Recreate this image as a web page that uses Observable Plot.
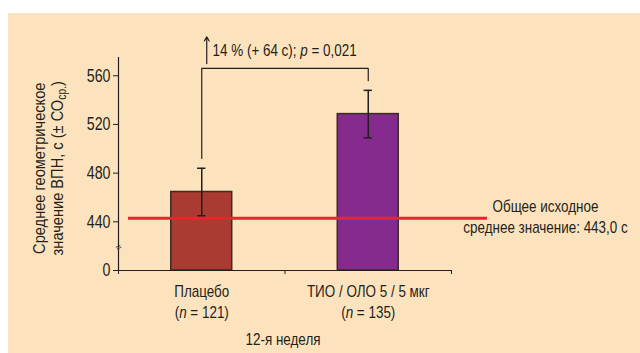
<!DOCTYPE html>
<html><head><meta charset="utf-8">
<script src="https://cdn.jsdelivr.net/npm/d3@7"></script>
<script src="https://cdn.jsdelivr.net/npm/@observablehq/plot@0.6"></script>
<style>
body{margin:0;background:#fff;}
#wrap{position:absolute;left:8px;top:13px;width:632px;height:340px;background:#fde3bd;}
</style></head><body><div id="wrap"></div>
<script>
const categories = ["Плацебо", "ТИО / ОЛО 5 / 5 мкг"];
const nLabels = ["(n = 121)", "(n = 135)"];
const means = [464.5, 528.5];
const errors = [19.5, 19.5];
const colors = ["#a93b30", "#862b8e"];
const baseline = 443.0;
const yTicks = [400, 440, 480, 520, 560];
const yTickLabels = ["0", "440", "480", "520", "560"];
const yLabelLines = ["Среднее геометрическое", "значение ВПН, с (± СОср.)"];
const diffLabel = "14 % (+ 64 с); p = 0,021";
const bracketLeft = 492, bracketTop = 566, bracketRight = 556;
const baselineLabel = ["Общее исходное", "среднее значение: 443,0 с"];
const xTitle = "12-я неделя";

const data = categories.map((c, i) => ({cat: c, n: nLabels[i], pos: i + 0.5, mean: means[i], err: errors[i], color: colors[i]}));
const bracket = [
  {x: data[0].pos, y: bracketLeft},
  {x: data[0].pos, y: bracketTop},
  {x: data[1].pos, y: bracketTop},
  {x: data[1].pos, y: bracketRight}
];
const FONT = '"Liberation Sans",Arial,sans-serif';
const ink = "#231f20";

const svg = Plot.plot({
  width: 632, height: 340,
  marginLeft: 110, marginRight: 189, marginTop: 44, marginBottom: 83,
  style: {fontFamily: FONT, fontSize: "17px", background: "transparent", overflow: "visible", color: ink},
  x: {domain: [0, 2], axis: null},
  y: {domain: [400, 575], axis: null},
  color: {type: "identity"},
  marks: [
    Plot.rectY(data, {x1: d => d.pos - 0.183, x2: d => d.pos + 0.183, y1: 400, y2: "mean", fill: "color", stroke: "#3b2b22", strokeWidth: 1.5}),
    Plot.ruleY([baseline], {stroke: "#e8242e", strokeWidth: 3, insetLeft: 10, insetRight: -36}),
    Plot.ruleX(data, {x: "pos", y1: d => d.mean - d.err, y2: d => d.mean + d.err, stroke: ink, strokeWidth: 1.5}),
    Plot.ruleY(data, {y: d => d.mean + d.err, x1: d => d.pos - 0.025, x2: d => d.pos + 0.025, stroke: ink, strokeWidth: 1.5}),
    Plot.ruleY(data, {y: d => d.mean - d.err, x1: d => d.pos - 0.025, x2: d => d.pos + 0.025, stroke: ink, strokeWidth: 1.5}),
    // axes
    Plot.ruleX([0], {stroke: ink, strokeWidth: 1.2}),
    Plot.ruleY([400], {stroke: ink, strokeWidth: 1.2}),
    Plot.axisY({ticks: yTicks, tickFormat: d => yTickLabels[yTicks.indexOf(d)], tickSize: 5, tickPadding: 3, fontSize: 18, stroke: ink, color: ink}),
    Plot.axisX({ticks: [0, 1, 2], tickFormat: () => "", tickSize: 4, stroke: ink}),
    Plot.text(["≈"], {x: 0, y: 419, fontSize: 10, fill: ink, rotate: -30}),
    // x labels
    Plot.text(data, {x: "pos", y: 400, text: "cat", dy: 21, fill: ink}),
    Plot.text(data, {x: "pos", y: 400, text: "n", dy: 42, fill: ink}),
    Plot.text([xTitle], {x: 1, y: 400, dy: 69, dx: -2, fill: ink}),
    // y label
    Plot.text([yLabelLines[0]], {frameAnchor: "left", textAnchor: "middle", y: 484, dx: -79, rotate: -90, fill: ink}),
    Plot.text([yLabelLines[1]], {frameAnchor: "left", textAnchor: "middle", y: 484, dx: -61, rotate: -90, fill: ink}),
    // bracket & annotation
    Plot.line(bracket, {x: "x", y: "y", stroke: ink, strokeWidth: 1.2, curve: "linear"}),
    Plot.arrow([0], {x1: 0.53, x2: 0.53, y1: 570, y2: 592, stroke: ink, strokeWidth: 1.2, headLength: 6}),
    Plot.text([diffLabel], {x: 0.565, y: 581, textAnchor: "start", fill: ink}),
    // baseline label
    Plot.text([baselineLabel[0]], {x: 2, y: baseline, dx: 94, dy: -12, fill: ink}),
    Plot.text([baselineLabel[1]], {x: 2, y: baseline, dx: 94, dy: 9, fill: ink})
  ]
});
document.getElementById("wrap").appendChild(svg);

// rich text: italics and subscript
d3.select(svg).selectAll("text").each(function() {
  const t = this.textContent;
  const el = d3.select(this);
  let m;
  if ((m = t.match(/^\((n)( = .*)$/))) {
    el.text(null);
    el.append("tspan").text("(");
    el.append("tspan").attr("font-style", "italic").text("n");
    el.append("tspan").text(m[2]);
  } else if ((m = t.match(/^(.*; )p( = .*)$/))) {
    el.text(null);
    el.append("tspan").text(m[1]);
    el.append("tspan").attr("font-style", "italic").text("p");
    el.append("tspan").text(m[2]);
  } else if ((m = t.match(/^(.*СО)(ср\.)(\))$/))) {
    el.text(null);
    el.append("tspan").text(m[1]);
    el.append("tspan").attr("font-size", "12px").attr("dy", "3").text(m[2]);
    el.append("tspan").attr("dy", "-3").text(m[3]);
  }
});
// condensed look: squeeze glyphs horizontally like a narrow typeface
d3.select(svg).selectAll("text").each(function() {
  const t = this.textContent;
  if (t === "≈") return;
  const k = (t.startsWith("Среднее") || t.startsWith("значение")) ? 0.86 : 0.79;
  const len = this.getComputedTextLength();
  if (len > 0) {
    this.setAttribute("textLength", (len * k).toFixed(1));
    this.setAttribute("lengthAdjust", "spacingAndGlyphs");
  }
});
</script></body></html>
